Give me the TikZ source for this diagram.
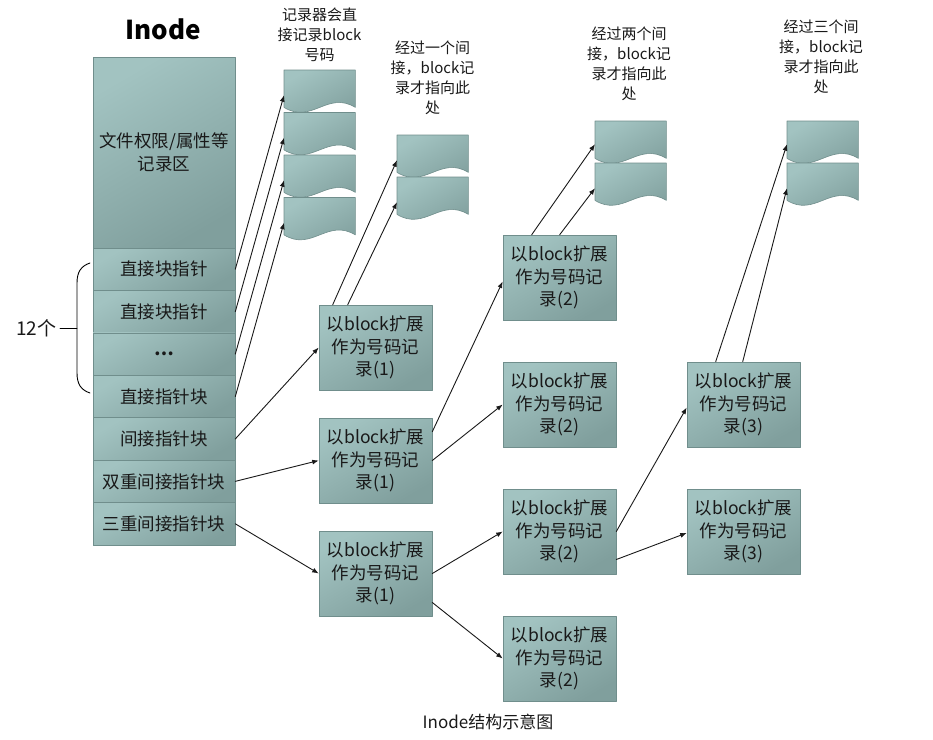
\documentclass[tikz,border=0pt]{standalone}
\usepackage{fontspec}
\setmainfont{Noto Sans CJK SC}
\usetikzlibrary{arrows.meta}
\definecolor{boxlight}{RGB}{162,195,193}
\definecolor{boxdark}{RGB}{128,159,157}
\definecolor{boxedge}{RGB}{112,142,140}

\begin{document}
\begin{tikzpicture}[x=1pt,y=-1pt,line cap=round,line join=round,>={Latex[length=6.5pt,width=5pt]},
  cell/.style={draw=boxedge,line width=0.6pt,top color=boxlight,bottom color=boxdark,shading angle=30,
    minimum width=142pt,minimum height=42.4pt,inner sep=0pt,text=black!90,font=\fontsize{17.5}{22.5}\selectfont},
  rec/.style={cell,minimum width=113pt,minimum height=85pt,align=center},
  doc/.style={minimum width=71pt,minimum height=37pt,inner sep=0pt,anchor=north west},
  docfill/.style={draw=boxedge,line width=0.6pt,top color=boxlight,bottom color=boxdark,shading angle=30},
  note/.style={align=center,text=black!90,font=\fontsize{15}{20}\selectfont},
  ptr/.style={->,line width=0.9pt,black!90}]
\useasboundingbox (0,0) rectangle (933,739);
% inode column
\node[font=\fontsize{26}{30}\selectfont\bfseries] (title) at (163,29) {Inode};
\node[cell,minimum height=191pt,align=center] (attr) at (164,152.5) {文件权限/属性等\\记录区};
\foreach \t [count=\i] in {直接块指针,直接块指针,\textbf{…},直接指针块,间接指针块,双重间接指针块,三重间接指针块}
  \node[cell] (r\i) at (164,{248+42.43*(\i-0.5)}) {\t};
% 12 direct pointers
\draw[line width=0.9pt] (90,263) .. controls (81,266) and (77,272) .. (77,283) -- (77,373) .. controls (77,384) and (81,390) .. (90,393);
\coordinate (tip) at (77,328);
\node[anchor=east,text=black!90,font=\fontsize{19}{22}\selectfont] (cnt) at (60,328) {12个};
\draw[line width=0.9pt] (cnt.east) -- (tip);
% data blocks
\foreach \n/\x/\y in {blk11/284/70,blk12/284/112.5,blk13/284/155,blk14/284/197.5,
                      blk21/397/135,blk22/397/177,blk31/595/121,blk32/595/163,blk41/787/121,blk42/787/163}{
  \node[doc] (\n) at (\x,\y) {};
  \path[docfill] (\n.north west) -- (\n.north east) -- (\n.south east)
    .. controls +(-28,-17) and +(28,17) .. (\n.south west) -- cycle;
}
\node[note] (n1) at (319.5,35) {记录器会直\\接记录block\\号码};
\node[note] (n2) at (432.5,78) {经过一个间\\接，block记\\录才指向此\\处};
\node[note] (n3) at (629,64) {经过两个间\\接，block记\\录才指向此\\处};
\node[note] (n4) at (821,57) {经过三个间\\接，block记\\录才指向此\\处};
% block records
\foreach \n/\x/\y/\k in {ind/375.5/347.5/1,dbl1/375.5/460.5/1,tri1/375.5/573.5/1,
                         dbl2a/559.5/277.5/2,dbl2b/559.5/404.5/2,tri2a/559.5/531.5/2,tri2b/559.5/658.5/2,
                         tri3a/743.5/404.5/3,tri3b/743.5/531.5/3}
  \node[rec] (\n) at (\x,\y) {以block扩展\\作为号码记\\录(\k)};
% pointers
\draw[ptr] (r1.east) -- ([yshift=-6.5pt]blk11.west);
\draw[ptr] (r2.east) -- ([yshift=-6.5pt]blk12.west);
\draw[ptr] (r3.east) -- ([yshift=-6.5pt]blk13.west);
\draw[ptr] (r4.east) -- ([yshift=-6.5pt]blk14.west);
\draw[ptr] (r5.east) -- (ind.west);
\draw[ptr] ([xshift=14pt]ind.north west) -- ([yshift=-6.5pt]blk21.west);
\draw[ptr] ([xshift=29pt]ind.north west) -- ([yshift=-6.5pt]blk22.west);
\draw[ptr] (r6.east) -- (dbl1.west);
\draw[ptr] ([yshift=-14pt]dbl1.north east) -- ([yshift=-4pt]dbl2a.west);
\draw[ptr] (dbl1.east) -- (dbl2b.west);
\draw[ptr] ([xshift=29pt]dbl2a.north west) -- ([yshift=-4.5pt]blk31.west);
\draw[ptr] ([xshift=57pt]dbl2a.north west) -- ([yshift=-6.5pt]blk32.west);
\draw[ptr] (r7.east) -- (tri1.west);
\draw[ptr] (tri1.east) -- (tri2a.west);
\draw[ptr] ([yshift=-29pt]tri1.east) -- (tri2b.west);
\draw[ptr] (tri2a.east) -- ([yshift=-3pt]tri3a.west);
\draw[ptr] ([yshift=-28pt]tri2a.east) -- ([yshift=-1.5pt]tri3b.west);
\draw[ptr] ([xshift=29pt]tri3a.north west) -- ([yshift=-4.5pt]blk41.west);
\draw[ptr] ([xshift=56pt]tri3a.north west) -- ([yshift=-6.5pt]blk42.west);
\node[text=black!90,font=\fontsize{17}{20}\selectfont] (cap) at (488,722) {Inode结构示意图};
\end{tikzpicture}
\end{document}
